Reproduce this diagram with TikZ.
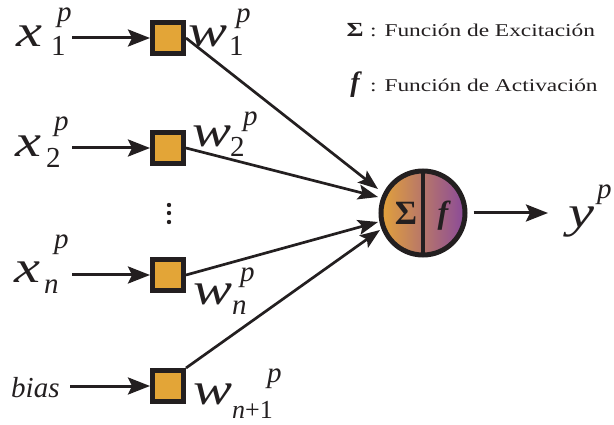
\documentclass[tikz,border=0pt]{standalone}
\usepackage{fontspec}
\setmainfont{Liberation Serif}
\usetikzlibrary{arrows.meta}
\definecolor{ink}{HTML}{231F20}
\definecolor{wbox}{HTML}{E3A537}
\definecolor{gradL}{HTML}{E3A23A}
\definecolor{gradR}{HTML}{8A4A9A}
% horizontally widened serif for the symbols and the legend
\newfontfamily\wideserif[FakeStretch=1.3]{Liberation Serif}
\tikzset{
  sym/.style={inner sep=0pt, anchor=base west, text=ink, font=\fontsize{45}{45}\selectfont\wideserif\itshape},
  idx/.style={inner sep=0pt, anchor=base west, text=ink, font=\fontsize{29}{29}\selectfont\itshape},
  idxup/.style={inner sep=0pt, anchor=base west, text=ink, font=\fontsize{29}{29}\selectfont},
  weight/.style={draw=ink, line width=5pt, fill=wbox, minimum size=31pt, inner sep=0pt},
  feed/.style={draw=ink, line width=3pt, -{Stealth[length=22pt,width=17pt,inset=4pt]}},
  link/.style={draw=ink, line width=2.7pt, -{Stealth[length=20pt,width=15pt,inset=4pt]}},
  legend/.style={inner sep=0pt, anchor=base west, text=ink, font=\fontsize{18}{18}\selectfont\wideserif},
}
\begin{document}
\begin{tikzpicture}[x=1pt,y=-1pt]
\useasboundingbox (0,0) rectangle (614,425);

% weight boxes
\node[weight] (w1) at (168,38) {};
\node[weight] (w2) at (168,148) {};
\node[weight] (wn) at (168,275) {};
\node[weight] (wb) at (168,386) {};

% vertical ellipsis
\foreach \yy in {205,213,222} \fill[ink] (169,\yy) circle (2.2);

% neuron: excitation and activation halves
\coordinate (c) at (423,213);
\shade[left color=gradL, right color=gradR] (c) circle (42);
\draw[ink, line width=5pt] (c) circle (42);
\draw[ink, line width=4pt] (423,171) -- (423,255);
\node[inner sep=0pt, anchor=base, text=ink, font=\fontsize{34}{34}\selectfont\bfseries] (sig) at (406,225) {Σ};
\node[inner sep=0pt, anchor=base, text=ink, font=\fontsize{32}{32}\selectfont\bfseries\itshape] (fa) at (443,224) {f};
\node[circle, minimum size=89pt, inner sep=0pt] (neuron) at (c) {};

% inputs
\node[sym] (x1) at (16,47) {x};
\node[idxup] at (51,56) {1};
\node[idx] at (57,22) {p};
\node[sym] (x2) at (15,157) {x};
\node[idxup] at (46,168) {2};
\node[idx] at (54,131) {p};
\node[sym] (xn) at (14,283) {x};
\node[idx] at (44,294) {n};
\node[idx] at (54,249) {p};
\node[inner sep=0pt, anchor=base west, text=ink, font=\fontsize{29}{29}\selectfont\itshape] (bias) at (11,397) {bias};

\coordinate (a1) at (72,38);
\coordinate (a2) at (72,148);
\coordinate (an) at (72,275);
\coordinate (ab) at (70,386);
\draw[feed] (a1) -- (w1.west);
\draw[feed] (a2) -- (w2.west);
\draw[feed] (an) -- (wn.west);
\draw[feed] (ab) -- (wb.west);

% weight labels
\node[sym] at (188,47) {w};
\node[idxup] at (229,56) {1};
\node[idx] at (236,23) {p};
\node[sym] at (192,147) {w};
\node[idxup] at (230,157) {2};
\node[idx] at (243,126) {p};
\node[sym] at (193,305) {w};
\node[idx] at (232,315) {n};
\node[idx] at (240,281) {p};
\node[sym] at (193,404) {w};
\node[idx, font=\fontsize{26}{26}\selectfont\itshape] at (232,418) {n\textup{+1}};
\node[idx] at (267,382) {p};

% weighted connections into the neuron
\coordinate (e1) at (378,189);
\coordinate (e2) at (378,197);
\coordinate (en) at (378,222);
\coordinate (eb) at (380,230);
\draw[link] (w1.east) -- (e1);
\draw[link] (w2.east) -- (e2);
\draw[link] (wn.east) -- (en);
\draw[link] (wb.north east) -- (eb);

% output
\coordinate (o) at (548,213);
\draw[feed] (neuron.east) ++(6,0) -- (o);
\node[sym] (y) at (568,228) {y};
\node[idx] at (597,199) {p};

% legend
\node[inner sep=0pt, anchor=base, text=ink, font=\fontsize{20}{20}\selectfont\wideserif\bfseries] at (355,37) {Σ};
\node[legend] at (370,37) {: Función de Excitación};
\node[inner sep=0pt, anchor=base, text=ink, font=\fontsize{28}{28}\selectfont\bfseries\itshape] at (355,92) {f};
\node[legend] at (370,92) {: Función de Activación};
\end{tikzpicture}
\end{document}
